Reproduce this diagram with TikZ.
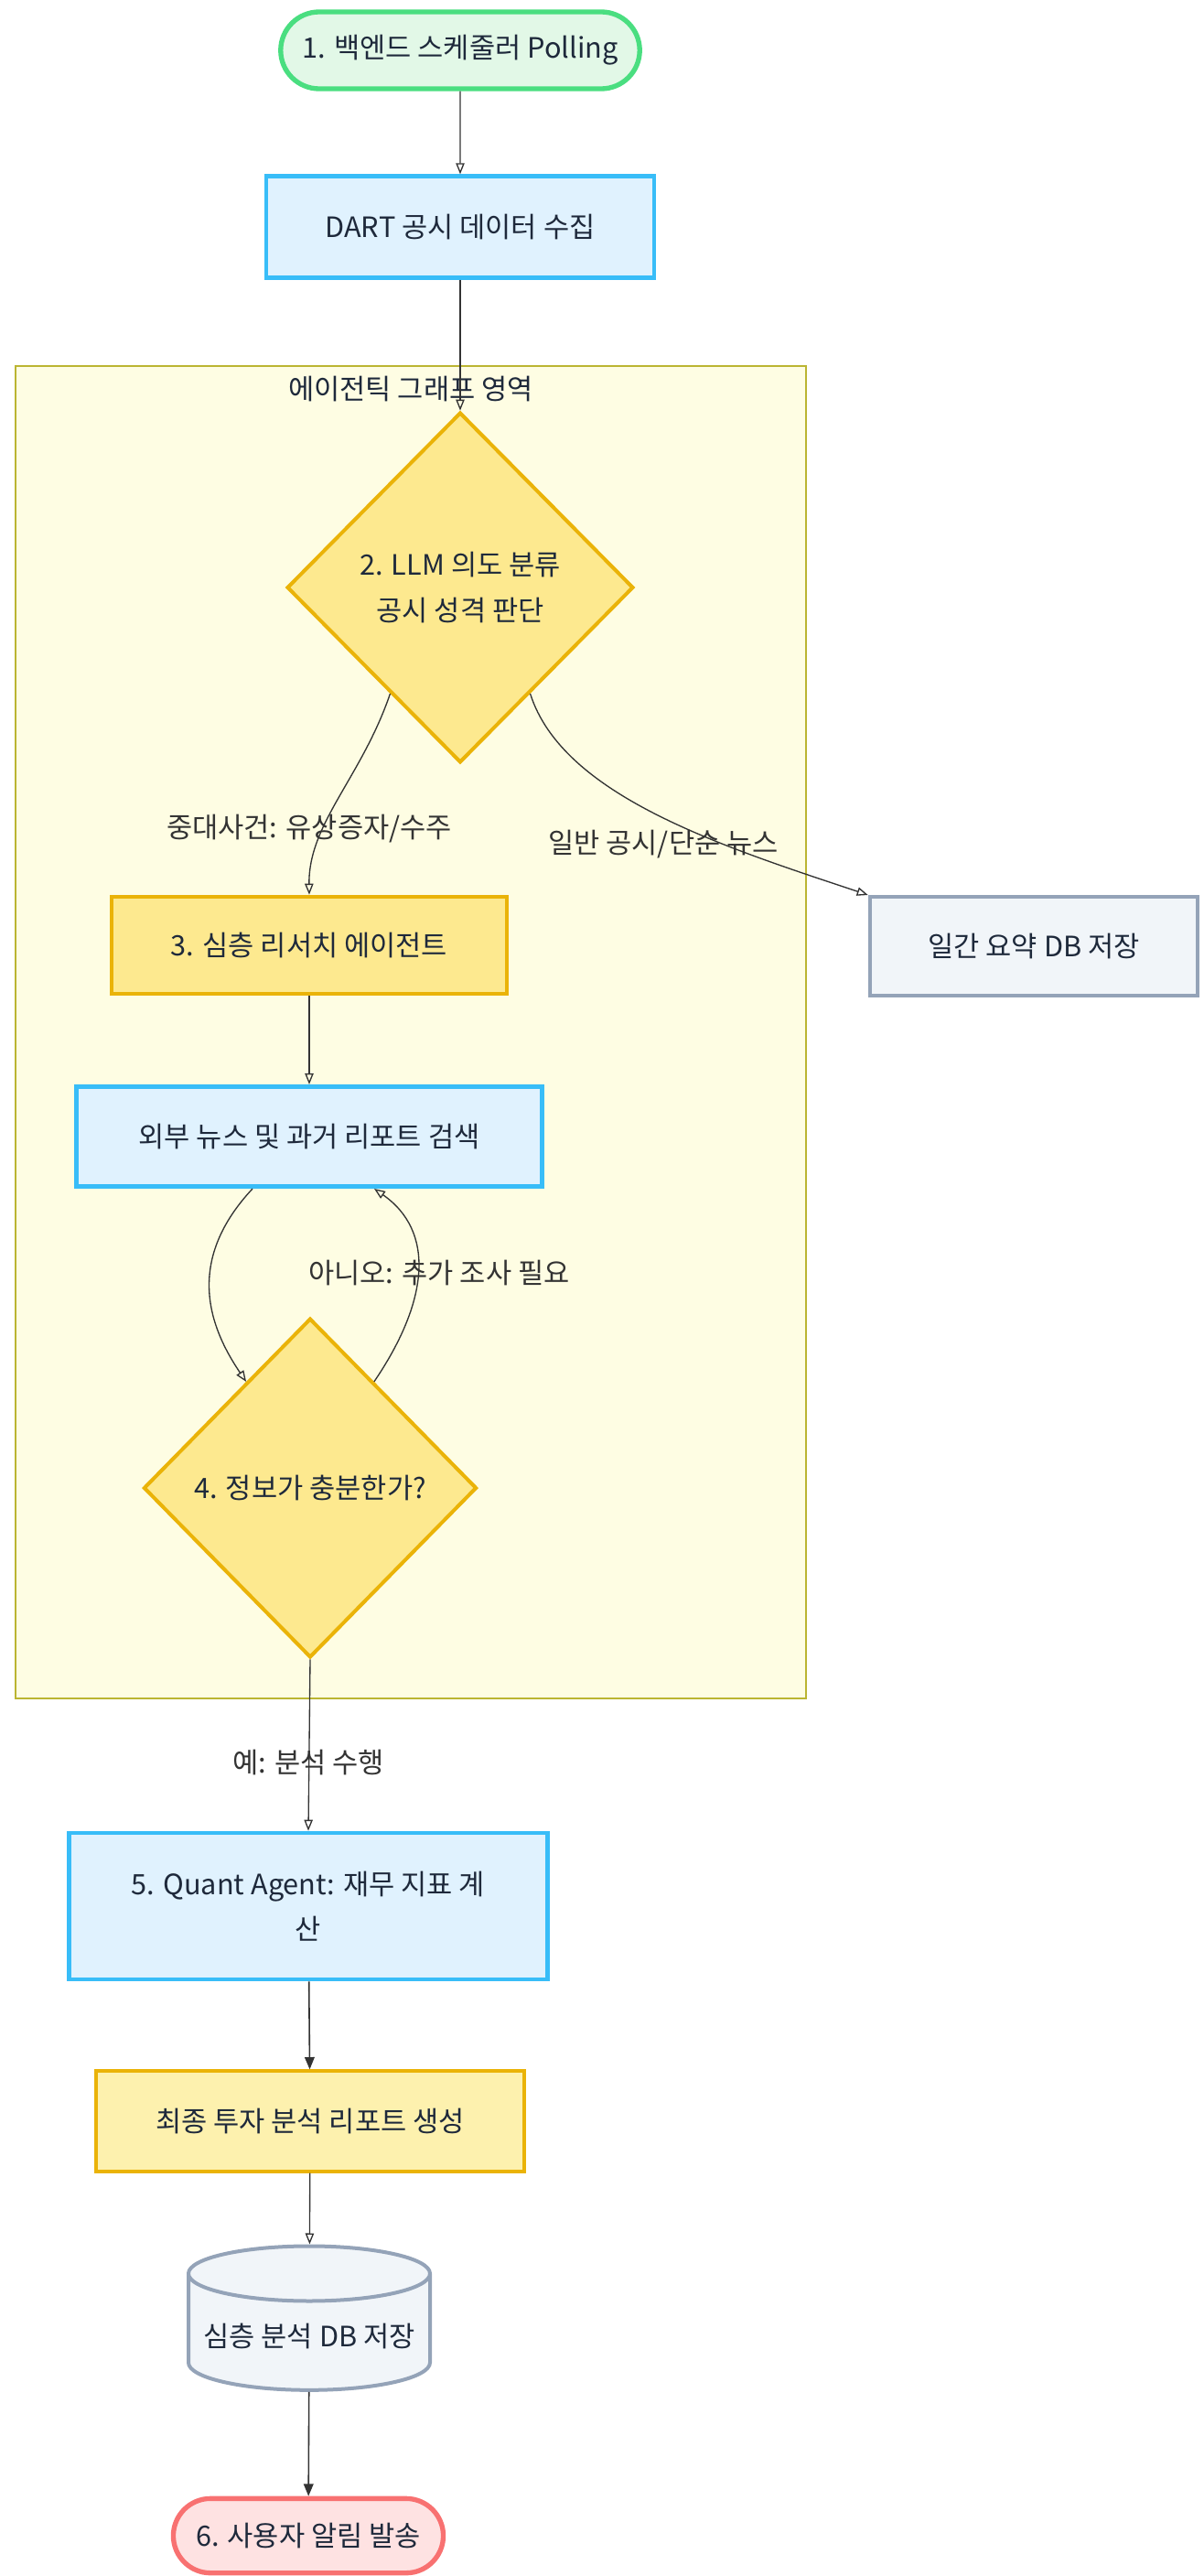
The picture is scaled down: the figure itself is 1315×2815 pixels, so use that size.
\documentclass[tikz,border=0pt]{standalone}
\usepackage{fontspec}
\setmainfont{Noto Sans CJK KR}
\usetikzlibrary{shapes.geometric,shapes.misc,arrows.meta,calc,positioning}

\definecolor{ink}{HTML}{1E293B}
\definecolor{wire}{HTML}{333333}
\definecolor{grnline}{HTML}{4ADE80}
\definecolor{grnfill}{HTML}{E2F8E7}
\definecolor{bluline}{HTML}{38BDF8}
\definecolor{blufill}{HTML}{E0F2FE}
\definecolor{yelline}{HTML}{EAB308}
\definecolor{yelfill}{HTML}{FDE98F}
\definecolor{yellite}{HTML}{FDF1AE}
\definecolor{grpline}{HTML}{BBB532}
\definecolor{grpfill}{HTML}{FEFDE3}
\definecolor{grayline}{HTML}{94A3B8}
\definecolor{grayfill}{HTML}{F1F5F9}
\definecolor{redline}{HTML}{F87171}
\definecolor{redfill}{HTML}{FEE2E2}

\tikzset{
  txt/.style={font=\fontsize{23}{37}\selectfont, text=ink, align=center},
  term/.style={txt, rounded rectangle, line width=4pt},
  proc/.style={txt, rectangle, line width=3.5pt},
  decide/.style={txt, diamond, line width=3pt, draw=yelline, fill=yelfill, inner sep=0pt},
  store/.style={txt, cylinder, shape border rotate=90, aspect=0.25, line width=3pt,
    draw=grayline, fill=grayfill},
  flow/.style={draw=wire, line width=1pt, -{Triangle[open,length=9pt,width=7pt]}},
  flowfull/.style={draw=wire, line width=1.2pt, -{Triangle[length=10pt,width=8pt]}},
  lbl/.style={font=\fontsize{23}{30}\selectfont, text=wire},
}

\begin{document}
\begin{tikzpicture}[x=0.75pt,y=-0.75pt]
\useasboundingbox (0,0) rectangle (1315,2815);

% agentic graph area
\draw[grpline, fill=grpfill, line width=2pt] (17,400) rectangle (881,1856);
\node[lbl, text=ink] (grplabel) at (449,425) {에이전틱 그래프 영역};

% nodes
\node[term, draw=grnline, fill=grnfill, minimum width=301pt, minimum height=63pt] (poll) at (503,55) {1. 백엔드 스케줄러 Polling};
\node[proc, draw=bluline, fill=blufill, minimum width=318pt, minimum height=83pt] (dart) at (503,248) {DART 공시 데이터 수집};
\node[decide, minimum width=284pt, minimum height=287pt] (intent) at (503,642) {2. LLM 의도 분류\\공시 성격 판단};
\node[proc, draw=yelline, fill=yelfill, line width=3pt, minimum width=324pt, minimum height=80pt] (research) at (338,1033) {3. 심층 리서치 에이전트};
\node[proc, draw=grayline, fill=grayfill, line width=3pt, minimum width=269pt, minimum height=81pt] (daily) at (1130,1034) {일간 요약 DB 저장};
\node[proc, draw=bluline, fill=blufill, minimum width=382pt, minimum height=82pt] (search) at (338,1242) {외부 뉴스 및 과거 리포트 검색};
\node[decide, minimum width=273pt, minimum height=278pt] (enough) at (339,1626) {4. 정보가 충분한가?};
\node[proc, draw=bluline, fill=blufill, minimum width=392pt, minimum height=120pt] (quant) at (337,2083) {5. Quant Agent: 재무 지표 계\\산};
\node[proc, draw=yelline, fill=yellite, line width=3pt, minimum width=351pt, minimum height=82pt] (report) at (339,2318) {최종 투자 분석 리포트 생성};
\node[store, minimum width=198pt, minimum height=118pt] (deepdb) at (338,2553) {심층 분석 DB 저장};
\node[term, draw=redline, fill=redfill, minimum width=228pt, minimum height=61pt] (alert) at (337,2771) {6. 사용자 알림 발송};

% connectors
\draw[flow] (poll) -- (dart);
\draw[flow] (dart) -- (intent.north);
\draw[flow] ($(intent.south)!0.4!(intent.west)$) .. controls (395,850) and (337,900) .. (research.north);
\draw[flow] ($(intent.south)!0.4!(intent.east)$) .. controls (615,870) and (790,925) .. (daily.north west);
\draw[flow] (research) -- (search);
\draw[flow] ($(search.south)+(-62,0)$) .. controls (205,1375) and (225,1445) .. ($(enough.north)!0.38!(enough.west)$);
\draw[flow] ($(enough.north)!0.38!(enough.east)$) .. controls (470,1420) and (475,1345) .. ($(search.south)+(71,0)$);
\draw[flow] (enough.south) -- (quant.north);
\draw[flowfull] (quant) -- (report);
\draw[flow] (report) -- (deepdb);
\draw[flowfull] (deepdb) -- (alert);

% edge labels
\node[lbl] (majorlbl) at (338,906) {중대사건: 유상증자/수주};
\node[lbl] (normallbl) at (725,923) {일반 공시/단순 뉴스};
\node[lbl] (morelbl) at (480,1391) {아니오: 추가 조사 필요};
\node[lbl] (yeslbl) at (337,1926) {예: 분석 수행};
\end{tikzpicture}
\end{document}
